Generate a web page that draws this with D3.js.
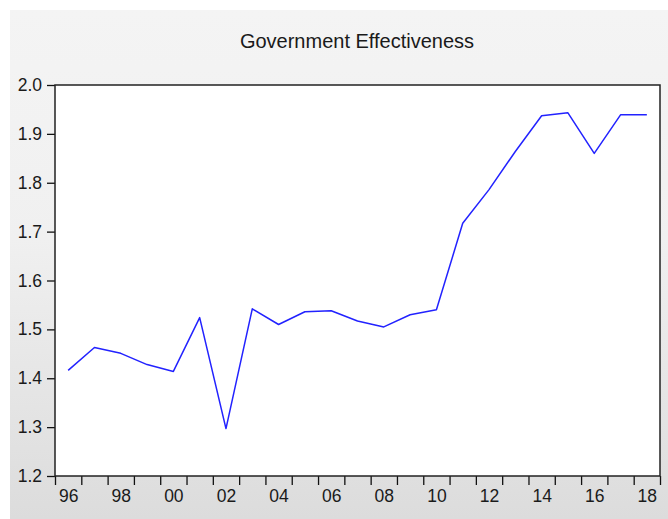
<!DOCTYPE html>
<html>
<head>
<meta charset="utf-8">
<script src="https://cdn.jsdelivr.net/npm/d3@7"></script>
<style>
  html, body { margin: 0; padding: 0; background: #ffffff; }
  svg { display: block; }
</style>
</head>
<body>
<script>
// Government Effectiveness index, yearly 1996–2018
const years = [1996, 1997, 1998, 1999, 2000, 2001, 2002, 2003, 2004, 2005, 2006, 2007,
               2008, 2009, 2010, 2011, 2012, 2013, 2014, 2015, 2016, 2017, 2018];
const values = [1.416, 1.463, 1.451, 1.428, 1.414, 1.524, 1.297, 1.542, 1.510, 1.536, 1.538, 1.517,
                1.505, 1.530, 1.540, 1.717, 1.786, 1.864, 1.937, 1.943, 1.860, 1.939, 1.939];
const yTicks = [1.2, 1.3, 1.4, 1.5, 1.6, 1.7, 1.8, 1.9, 2.0];
const xLabelYears = [1996, 1998, 2000, 2002, 2004, 2006, 2008, 2010, 2012, 2014, 2016, 2018];
const title = "Government Effectiveness";

const W = 668, H = 519;
const plot = { left: 55, right: 660, top: 85, bottom: 476 };

const svg = d3.select("body").append("svg")
  .attr("width", W).attr("height", H);

// panel background with a soft vertical gradient
const grad = svg.append("defs").append("linearGradient")
  .attr("id", "panelGrad").attr("x1", 0).attr("y1", 0).attr("x2", 0).attr("y2", 1);
grad.append("stop").attr("offset", "0%").attr("stop-color", "#f4f4f4");
grad.append("stop").attr("offset", "45%").attr("stop-color", "#f0f0f0");
grad.append("stop").attr("offset", "100%").attr("stop-color", "#dcdcdc");

svg.append("rect")
  .attr("x", 10).attr("y", 10).attr("width", W - 10).attr("height", H - 10)
  .attr("fill", "url(#panelGrad)");

// plotting area
svg.append("rect")
  .attr("x", plot.left).attr("y", plot.top)
  .attr("width", plot.right - plot.left).attr("height", plot.bottom - plot.top)
  .attr("fill", "#ffffff");

const x = d3.scaleLinear()
  .domain([years[0] - 0.5, years[years.length - 1] + 0.5])
  .range([plot.left, plot.right]);
const y = d3.scaleLinear().domain([1.2, 2.0]).range([plot.bottom, plot.top]);

const font = "'Liberation Sans', Arial, sans-serif";

// y axis
const yAxis = svg.append("g")
  .attr("transform", `translate(${plot.left},0)`)
  .call(d3.axisLeft(y).tickValues(yTicks).tickFormat(d3.format(".1f")).tickSize(8).tickPadding(5));
yAxis.select(".domain").remove();
yAxis.selectAll("line").attr("stroke", "#111").attr("stroke-width", 1.3);
yAxis.selectAll("text").attr("font-family", font).attr("font-size", 17.5).attr("fill", "#1a1a1a");

// x axis: tick marks at year boundaries
const boundaries = years.map(v => v - 0.5).concat([years[years.length - 1] + 0.5]);
const xTickAxis = svg.append("g")
  .attr("transform", `translate(0,${plot.bottom})`)
  .call(d3.axisBottom(x).tickValues(boundaries).tickFormat("").tickSize(9));
xTickAxis.select(".domain").remove();
xTickAxis.selectAll("line").attr("stroke", "#111").attr("stroke-width", 1.3);

// x axis: two-digit year labels centred on each year
const xLabelAxis = svg.append("g")
  .attr("transform", `translate(0,${plot.bottom})`)
  .call(d3.axisBottom(x).tickValues(xLabelYears)
    .tickFormat(d => String(d).slice(2)).tickSize(0).tickPadding(14));
xLabelAxis.select(".domain").remove();
xLabelAxis.selectAll("text").attr("font-family", font).attr("font-size", 17.5).attr("fill", "#1a1a1a");

// frame
svg.append("rect")
  .attr("x", plot.left).attr("y", plot.top)
  .attr("width", plot.right - plot.left).attr("height", plot.bottom - plot.top)
  .attr("fill", "none").attr("stroke", "#222").attr("stroke-width", 1.5);

// series line
const line = d3.line()
  .x((d, i) => x(years[i]))
  .y(d => y(d));
svg.append("path")
  .datum(values)
  .attr("d", line)
  .attr("fill", "none")
  .attr("stroke", "#2222ff")
  .attr("stroke-width", 1.5)
  .attr("stroke-linejoin", "round");

// title
svg.append("text")
  .attr("x", 357).attr("y", 48)
  .attr("text-anchor", "middle")
  .attr("font-family", font).attr("font-size", 20)
  .attr("fill", "#1a1a1a")
  .text(title);
</script>
</body>
</html>
